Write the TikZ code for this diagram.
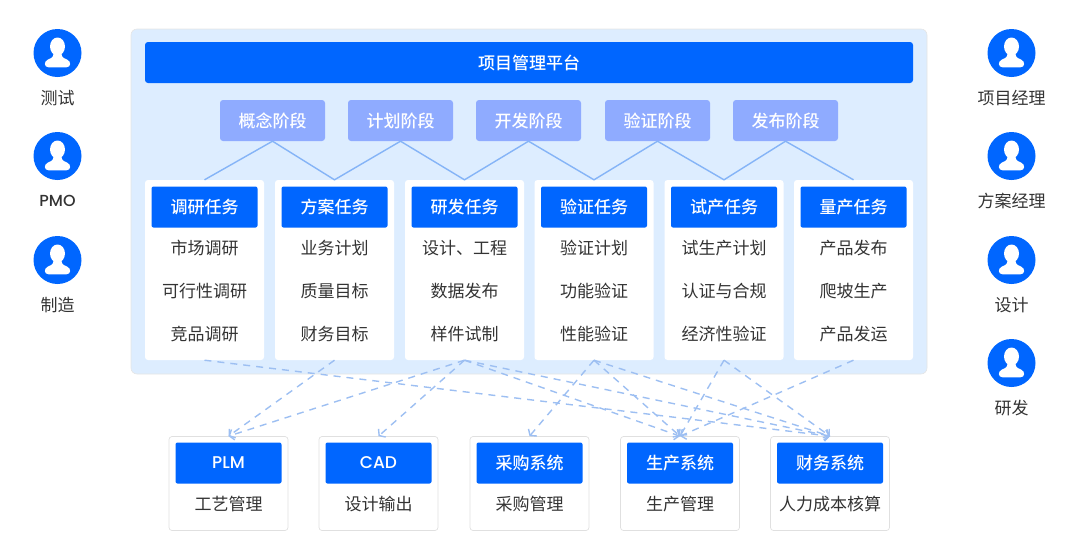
\documentclass[tikz,border=0pt]{standalone}
\usepackage{fontspec}
\setmainfont{Noto Sans CJK SC}[BoldFont = Noto Sans CJK SC Medium]
\newfontfamily\latinfont{Poppins Medium}
\usetikzlibrary{arrows.meta}
\definecolor{panelblue}{HTML}{DDEDFF}
\definecolor{mainblue}{HTML}{0066FF}
\definecolor{stageblue}{HTML}{8FABFF}
\definecolor{zigblue}{HTML}{85B4F7}
\definecolor{dashblue}{HTML}{9DBFF2}
\definecolor{textgray}{HTML}{333333}
\tikzset{
	panel/.style = {fill = panelblue, draw = black!10, line width = 0.6pt, rounded corners = 6pt, minimum width = 796, minimum height = 345},
	titlebar/.style = {fill = mainblue, rounded corners = 3pt, text = white, font = \fontsize{17}{17}\selectfont\bfseries, minimum width = 768, minimum height = 41, text height = 14pt, text depth = 1pt},
	stagebox/.style = {fill = stageblue, rounded corners = 3pt, text = white, font = \fontsize{17}{17}\selectfont\bfseries, minimum width = 105, minimum height = 41},
	taskcard/.style = {fill = white, rounded corners = 3pt, minimum width = 119, minimum height = 180},
	syscard/.style = {fill = white, draw = black!12, line width = 0.7pt, rounded corners = 3pt, minimum width = 119, minimum height = 94},
	headbox/.style = {fill = mainblue, rounded corners = 2pt, text = white, font = \fontsize{17}{17}\selectfont\bfseries, minimum width = 106, minimum height = 41},
	lowhead/.style = {text height = 14pt, text depth = 1pt},
	itemtext/.style = {text = textgray, font = \fontsize{17}{17}\selectfont},
	zigline/.style = {zigblue, line width = 1.4pt},
	dashline/.style = {dashblue, line width = 1.4pt, dash pattern = on 7pt off 6pt, -{Straight Barb[length = 4pt, width = 11pt]}},
	person/.pic = {
		\fill[mainblue] (0, 0) circle (24);
		\fill[white] (0, -6.5) ellipse (7.5 and 9);
		\fill[white] (-9, 14.3) .. controls (-13.5, 14.3) and (-14, 8.5) .. (-9.5, 6.5) .. controls (-6, 5) and (-4, 4.5) .. (-4, 0)
			-- (4, 0) .. controls (4, 4.5) and (6, 5) .. (9.5, 6.5) .. controls (14, 8.5) and (13.5, 14.3) .. (9, 14.3) -- cycle;
	}
}
\begin{document}
\begin{tikzpicture}[x = 1pt, y = -1pt]
	\useasboundingbox (0, 0) rectangle (1080, 558);

	% People on both sides
	\foreach \py/\pname/\ptext in {53/a/测试, 156/b/{\latinfont\fontsize{16}{16}\selectfont PMO}, 260/c/制造} {
		\pic at (57.5, \py) {person};
		\node[itemtext] (left\pname) at (57.5, \py + 45) {\ptext};
	}
	\foreach \py/\pname/\ptext in {53/a/项目经理, 156/b/方案经理, 260/c/设计, 363/d/研发} {
		\pic at (1011.5, \py) {person};
		\node[itemtext] (right\pname) at (1011.5, \py + 45) {\ptext};
	}

	% Platform panel and title
	\node[panel] (platform) at (529, 201.5) {};
	\node[titlebar] (title) at (529, 62.5) {项目管理平台};

	% Stages
	\foreach \px/\pname/\ptext in {272.5/1/概念阶段, 400.5/2/计划阶段, 528.5/3/开发阶段, 657.5/4/验证阶段, 785.5/5/发布阶段} {
		\node[stagebox] (stage\pname) at (\px, 120.5) {\ptext};
	}

	% Task cards
	\foreach \px/\pname/\ptext/\pa/\pb/\pc in {
		204.5/1/调研任务/市场调研/可行性调研/竞品调研,
		334.5/2/方案任务/业务计划/质量目标/财务目标,
		464.5/3/研发任务/设计、工程/数据发布/样件试制,
		594/4/验证任务/验证计划/功能验证/性能验证,
		724/5/试产任务/试生产计划/认证与合规/经济性验证,
		853.5/6/量产任务/产品发布/爬坡生产/产品发运} {
		\node[taskcard] (task\pname) at (\px, 270) {};
		\node[headbox, lowhead] (taskhead\pname) at (\px, 207) {\ptext};
		\node[itemtext] (taska\pname) at (\px, 248) {\pa};
		\node[itemtext] (taskb\pname) at (\px, 291) {\pb};
		\node[itemtext] (taskc\pname) at (\px, 334) {\pc};
	}

	% System cards
	\foreach \px/\pname/\ptext/\pa in {
		228.5/plm/{\latinfont\mdseries PLM}/工艺管理,
		378.5/cad/{\latinfont\mdseries CAD}/设计输出,
		529.5/buy/采购系统/采购管理,
		680/make/生产系统/生产管理,
		830/fin/财务系统/人力成本核算} {
		\node[syscard] (\pname) at (\px, 483.5) {};
		\node[headbox] (\pname head) at (\px, 463) {\ptext};
		\node[itemtext] (\pname text) at (\px, 504) {\pa};
	}

	% Zigzag between stages and tasks
	\draw[zigline] (task1.north) -- (stage1.south) -- (task2.north) -- (stage2.south) -- (task3.north) -- (stage3.south)
		-- (task4.north) -- (stage4.south) -- (task5.north) -- (stage5.south) -- (task6.north);

	% Dashed links from tasks to systems
	\foreach \pfrom/\pto in {1/fin, 2/plm, 3/plm, 3/cad, 3/make, 3/fin, 4/buy, 4/make, 4/fin, 5/make, 5/fin, 6/make} {
		\draw[dashline] (task\pfrom.south) -- (\pto.north);
	}
\end{tikzpicture}
\end{document}
